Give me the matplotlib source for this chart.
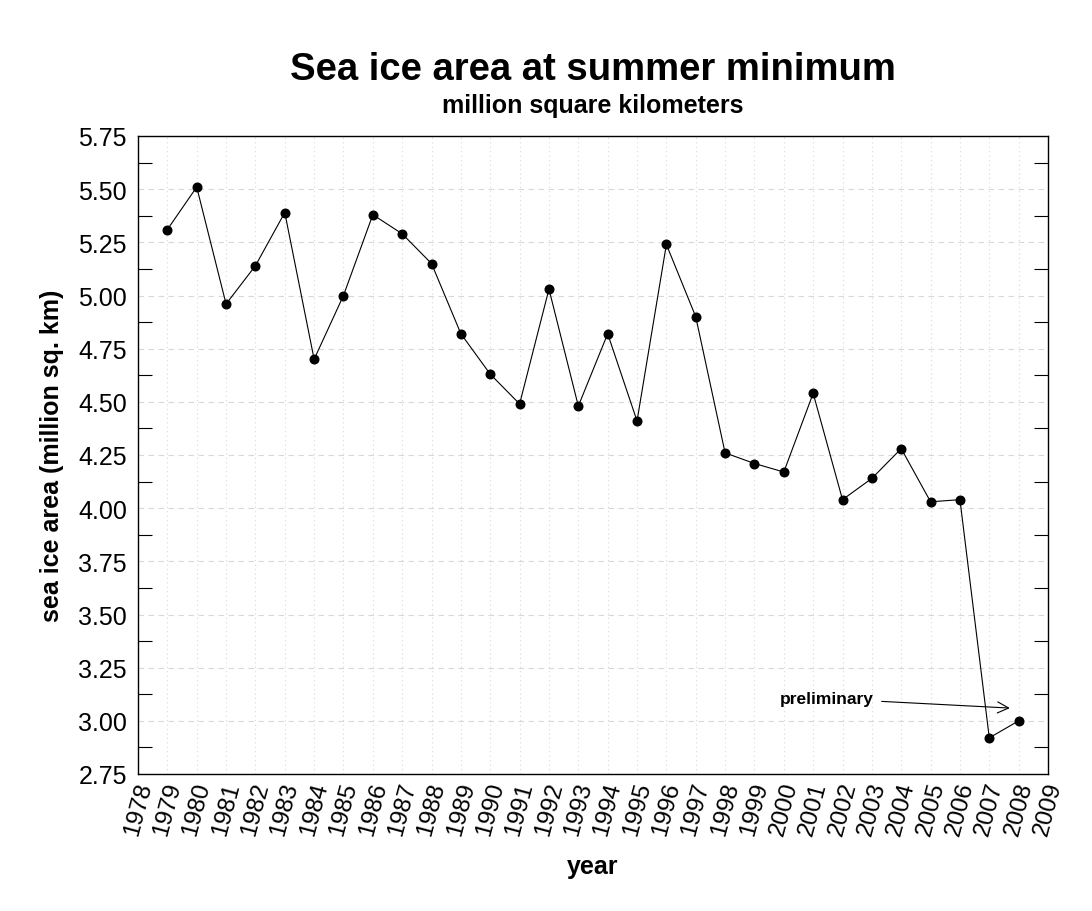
import matplotlib.pyplot as plt
from matplotlib.ticker import MultipleLocator

plt.rcParams['font.family'] = ['Liberation Sans', 'DejaVu Sans']

years = list(range(1979, 2009))
area = [5.31, 5.51, 4.96, 5.14, 5.39, 4.70, 5.00, 5.38, 5.29, 5.15,
        4.82, 4.63, 4.49, 5.03, 4.48, 4.82, 4.41, 5.24, 4.90, 4.26,
        4.21, 4.17, 4.54, 4.04, 4.14, 4.28, 4.03, 4.04, 2.92, 3.00]
year_ticks = list(range(1978, 2010))

fig = plt.figure(figsize=(10.92, 9.12), dpi=100)
ax = fig.add_axes([138 / 1092, 1 - 775 / 912, 910 / 1092, 638 / 912])

ax.plot(years, area, color='black', lw=0.8, marker='o', ms=6.2)

ax.set_xlim(1978, 2009)
ax.set_ylim(2.75, 5.75)
ax.set_xticks(year_ticks)
ax.set_xticklabels([str(y) for y in year_ticks], rotation=75, fontsize=17.5)
ax.yaxis.set_major_locator(MultipleLocator(0.25))
ax.yaxis.set_minor_locator(MultipleLocator(0.125))
ax.set_yticklabels(['%.2f' % v for v in ax.get_yticks()], fontsize=18)
ax.tick_params(axis='x', length=0, pad=4)
ax.tick_params(axis='y', which='major', length=0, pad=8)
ax.tick_params(axis='y', which='minor', length=10, direction='in',
               left=True, right=True, width=0.8)

ax.grid(axis='y', which='major', color='#d8d8d8', ls=(0, (5, 4)), lw=0.8)
ax.grid(axis='x', which='major', color='#d8d8d8', ls=(0, (1, 3)), lw=0.8)
for s in ax.spines.values():
    s.set_linewidth(1.0)

ax.annotate('preliminary', xy=(2007.7, 3.06), xytext=(2003.05, 3.105),
            fontsize=12.5, fontweight='bold', ha='right', va='center',
            arrowprops=dict(arrowstyle='->', color='black', lw=0.8,
                            mutation_scale=20, shrinkA=4, shrinkB=0))

ax.set_xlabel('year', fontsize=18, fontweight='bold', labelpad=12)
ax.set_ylabel('sea ice area (million sq. km)', fontsize=18, fontweight='bold',
              labelpad=10)

fig.text(593 / 1092, 1 - 70 / 912, 'Sea ice area at summer minimum',
         fontsize=27.5, fontweight='bold', ha='center', va='center')
fig.text(593 / 1092, 1 - 106 / 912, 'million square kilometers',
         fontsize=18, fontweight='bold', ha='center', va='center')

fig.savefig('out.png', dpi=100)
